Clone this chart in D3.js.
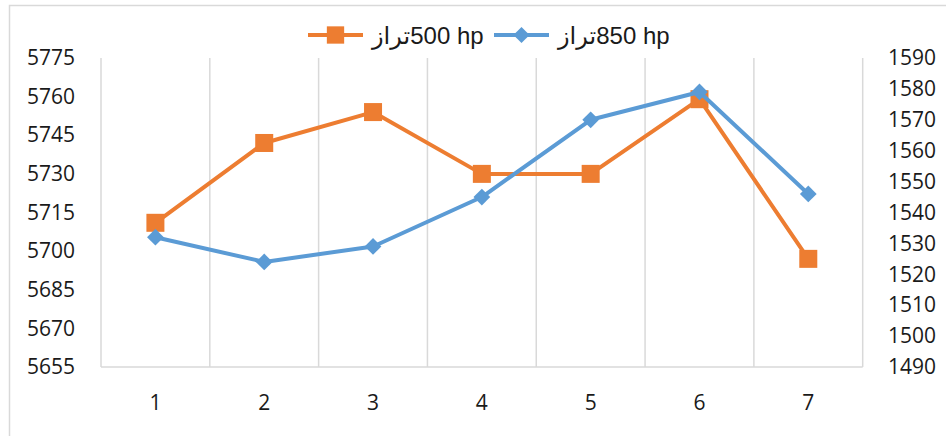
<!DOCTYPE html>
<html lang="en">
<head>
  <meta charset="UTF-8">
  <script src="https://cdn.jsdelivr.net/npm/d3@7"></script>
  <title>Line chart</title>
  <style>
    body { margin: 0; background: #fff; }
    svg { display: block; }
    .tick text { font-family: "Open Sans", "Noto Sans", sans-serif; fill: #1a1a1a; }
    .legend text { font-family: "Liberation Sans", "DejaVu Sans", sans-serif; fill: #1a1a1a; }
  </style>
</head>
<body>
<div id="chart"></div>
<script>
  // data
  var categories = ["1", "2", "3", "4", "5", "6", "7"];
  var hp500 = [5711, 5742, 5754, 5730, 5730, 5759, 5697];   // left axis
  var hp850 = [1532, 1524, 1529, 1545, 1570, 1579, 1546];   // right axis
  var leftTicks = [5655, 5670, 5685, 5700, 5715, 5730, 5745, 5760, 5775];
  var rightTicks = [1490, 1500, 1510, 1520, 1530, 1540, 1550, 1560, 1570, 1580, 1590];
  var seriesNames = ["تراز\u200E500 hp", "تراز\u200E850 hp"];

  var W = 946, H = 436;
  var plot = {left: 101, right: 862.7, top: 58, bottom: 367};
  var orange = "#ED7D31", blue = "#5B9BD5", grid = "#d9d9d9";

  var svg = d3.select("#chart").append("svg")
    .attr("width", W)
    .attr("height", H);

  // outer frame
  svg.append("rect")
    .attr("x", 9.5).attr("y", 5.5)
    .attr("width", W).attr("height", H)
    .attr("fill", "none")
    .attr("stroke", grid)
    .attr("stroke-width", 1.5);

  var x = d3.scaleBand().domain(categories).range([plot.left, plot.right]);
  var yL = d3.scaleLinear().domain([5655, 5775]).range([plot.bottom, plot.top]);
  var yR = d3.scaleLinear().domain([1490, 1590]).range([plot.bottom, plot.top]);
  var cx = function(d) { return x(d) + x.bandwidth() / 2; };

  // vertical gridlines at category boundaries
  var edges = categories.map(function(d) { return x(d); }).concat([plot.right]);
  svg.append("g").selectAll("line")
    .data(edges)
    .enter().append("line")
      .attr("x1", function(d) { return d; })
      .attr("x2", function(d) { return d; })
      .attr("y1", plot.top)
      .attr("y2", plot.bottom)
      .attr("stroke", grid)
      .attr("stroke-width", 1.5);

  // bottom axis line
  svg.append("line")
    .attr("x1", plot.left).attr("x2", plot.right)
    .attr("y1", plot.bottom).attr("y2", plot.bottom)
    .attr("stroke", grid)
    .attr("stroke-width", 1.5);

  // axes (labels only)
  var fmt = d3.format("d");
  var axL = svg.append("g")
    .attr("transform", "translate(75,0)")
    .call(d3.axisLeft(yL).tickValues(leftTicks).tickFormat(fmt).tickSize(0).tickPadding(0));
  var axR = svg.append("g")
    .attr("transform", "translate(888,0)")
    .call(d3.axisRight(yR).tickValues(rightTicks).tickFormat(fmt).tickSize(0).tickPadding(0));
  var axB = svg.append("g")
    .attr("transform", "translate(0," + 395 + ")")
    .call(d3.axisBottom(x).tickSize(0).tickPadding(0));

  [axL, axR, axB].forEach(function(a) {
    a.select(".domain").remove();
    a.selectAll("text").attr("font-size", 21);
  });

  var line = function(scale) {
    return d3.line()
      .x(function(d, i) { return cx(categories[i]); })
      .y(function(d) { return scale(d); });
  };

  // orange series (left axis)
  svg.append("path")
    .datum(hp500)
    .attr("d", line(yL))
    .attr("fill", "none")
    .attr("stroke", orange)
    .attr("stroke-width", 4)
    .attr("stroke-linejoin", "round");

  svg.append("g").selectAll("rect")
    .data(hp500)
    .enter().append("rect")
      .attr("x", function(d, i) { return cx(categories[i]) - 9; })
      .attr("y", function(d) { return yL(d) - 9; })
      .attr("width", 18)
      .attr("height", 18)
      .attr("fill", orange);

  // blue series (right axis)
  svg.append("path")
    .datum(hp850)
    .attr("d", line(yR))
    .attr("fill", "none")
    .attr("stroke", blue)
    .attr("stroke-width", 4)
    .attr("stroke-linejoin", "round");

  var diamond = d3.symbol().type(d3.symbolSquare).size(140);
  svg.append("g").selectAll("path")
    .data(hp850)
    .enter().append("path")
      .attr("d", diamond)
      .attr("transform", function(d, i) {
        return "translate(" + cx(categories[i]) + "," + yR(d) + ") rotate(45)";
      })
      .attr("fill", blue);

  // legend
  var legend = svg.append("g").attr("class", "legend");
  var items = [
    {name: seriesNames[0], color: orange, x0: 308, kind: "square"},
    {name: seriesNames[1], color: blue, x0: 494, kind: "diamond"}
  ];
  var li = legend.selectAll("g")
    .data(items)
    .enter().append("g")
    .attr("transform", function(d) { return "translate(" + d.x0 + ",35)"; });

  li.append("line")
    .attr("x1", 0).attr("x2", 55)
    .attr("y1", 0).attr("y2", 0)
    .attr("stroke", function(d) { return d.color; })
    .attr("stroke-width", 4);

  li.append("path")
    .attr("d", function(d) {
      return d.kind === "square"
        ? d3.symbol().type(d3.symbolSquare).size(300)()
        : d3.symbol().type(d3.symbolSquare).size(130)();
    })
    .attr("transform", function(d) {
      return "translate(27.5,0)" + (d.kind === "diamond" ? " rotate(45)" : "");
    })
    .attr("fill", function(d) { return d.color; });

  li.append("text")
    .attr("x", 64)
    .attr("y", 8.5)
    .attr("font-size", 24)
    .text(function(d) { return d.name; });
</script>
</body>
</html>
